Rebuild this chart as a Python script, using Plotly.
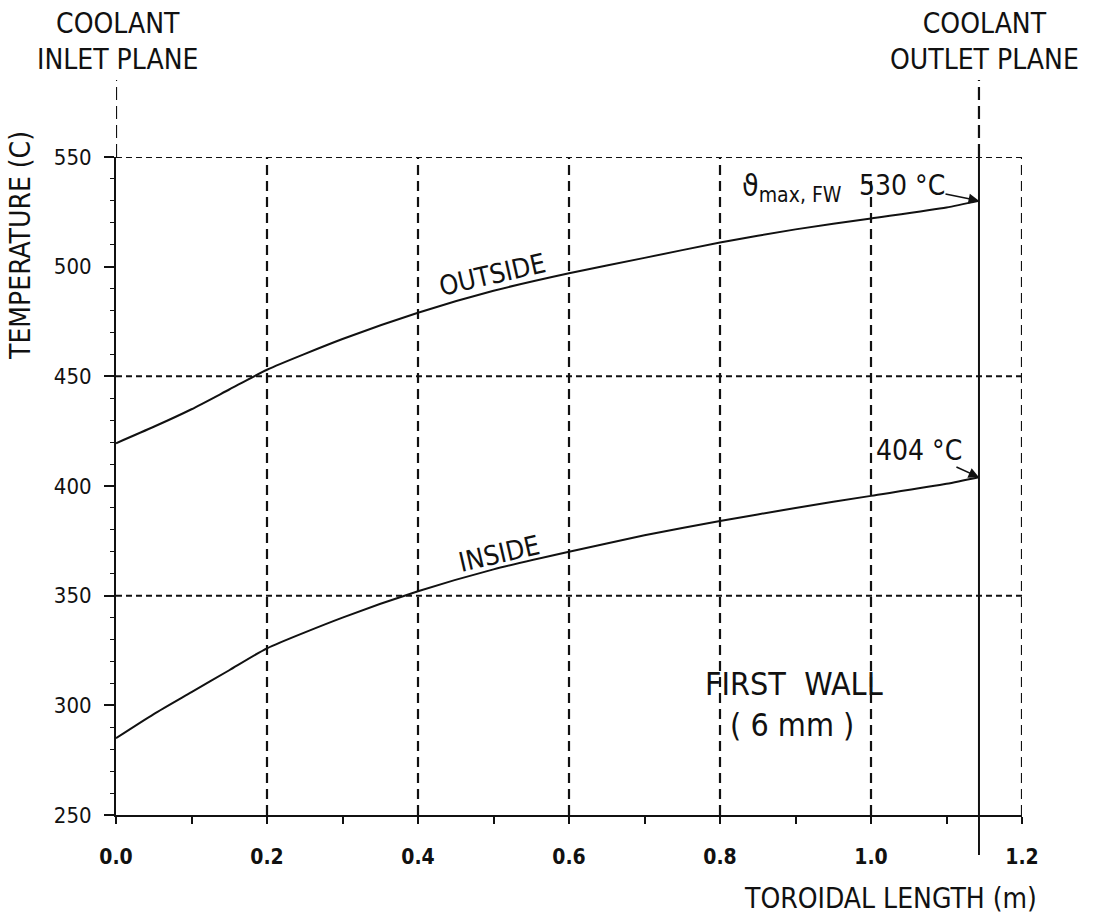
import plotly.graph_objects as go

# Toroidal position along the first wall (m)
length_m = [0.0, 0.05, 0.1, 0.15, 0.2, 0.3, 0.4, 0.5, 0.6, 0.7, 0.8, 0.9, 1.0, 1.1, 1.143]
# Wall temperatures (C)
outside_c = [419.5, 427, 435, 444, 453, 467, 479, 489, 497, 504, 511, 517, 522, 527, 530]
inside_c = [285, 296, 306, 316, 326, 340, 352, 362, 370, 377.5, 384, 390, 395.5, 401, 404]

x_ticks = [0.0, 0.2, 0.4, 0.6, 0.8, 1.0, 1.2]
x_tick_text = ["0.0", "0.2", "0.4", "0.6", "0.8", "1.0", "1.2"]
y_ticks = [250, 300, 350, 400, 450, 500, 550]
x_grid = [0.2, 0.4, 0.6, 0.8, 1.0, 1.2]
y_grid = [350, 450, 550]
inlet_x = 0.0
outlet_x = length_m[-1]

W, H = 1093, 922
L, R, T, B = 116, 71, 157, 107
PW, PH = W - L - R, H - T - B
X0, X1 = 0.0, 1.2
Y0, Y1 = 250, 550


def px(xp):
    return (xp - L) / PW


def py(yp):
    return (H - B - yp) / PH


TEXT_FONT = "DejaVu Sans Condensed, DejaVu Sans, sans-serif"
INK = "#111111"

fig = go.Figure()

for temps in (outside_c, inside_c):
    fig.add_trace(go.Scatter(
        x=length_m, y=temps, mode="lines",
        line=dict(color=INK, width=2, shape="spline", smoothing=0.6),
        showlegend=False, hoverinfo="skip",
    ))

shapes = []
# dashed grid
for xv in x_grid:
    top = 540 if xv == 1.0 else Y1
    shapes.append(dict(type="line", xref="x", yref="y", x0=xv, x1=xv, y0=Y0, y1=top,
                       line=dict(color=INK, width=2.2, dash="10px,6px"), layer="below"))
for yv in y_grid:
    shapes.append(dict(type="line", xref="x", yref="y", x0=X0, x1=X1, y0=yv, y1=yv,
                       line=dict(color=INK, width=2, dash="6px,4px"), layer="below"))

# coolant inlet plane marker above the axis
shapes.append(dict(type="line", xref="x", yref="paper", x0=inlet_x, x1=inlet_x, y0=1.0, y1=py(80),
                   line=dict(color=INK, width=2.2, dash="13px,6px")))
# coolant outlet plane: solid inside the plot, dashed above, extended below
shapes.append(dict(type="line", xref="x", yref="y", x0=outlet_x, x1=outlet_x, y0=Y0, y1=Y1,
                   line=dict(color=INK, width=2)))
shapes.append(dict(type="line", xref="x", yref="paper", x0=outlet_x, x1=outlet_x, y0=1.0, y1=py(80),
                   line=dict(color=INK, width=2.2, dash="13px,6px")))
shapes.append(dict(type="line", xref="x", yref="paper", x0=outlet_x, x1=outlet_x, y0=py(855), y1=0.0,
                   line=dict(color=INK, width=2)))

annotations = []


def note(text, xp, yp, size, angle=0, xanchor="center"):
    annotations.append(dict(
        text=text, x=px(xp), y=py(yp), xref="paper", yref="paper",
        xanchor=xanchor, yanchor="middle", showarrow=False, textangle=angle,
        font=dict(family=TEXT_FONT, size=size, color=INK),
    ))


note("COOLANT<br>INLET PLANE", 117, 41, 28)
note("COOLANT<br>OUTLET PLANE", 984, 41, 28)
note("TEMPERATURE (C)", 21, 246, 28, angle=-90)
note("TOROIDAL LENGTH (m)", 890, 898, 28)
note("OUTSIDE", 492, 274, 27, angle=-13)
note("INSIDE", 499, 553, 27, angle=-13)
note("FIRST  WALL", 794, 684, 32)
note("( 6 mm )", 792, 725, 32)
note("ϑ<sub>max, FW</sub>", 740, 187, 30, xanchor="left")


def value_label(temp, xp, yp):
    # label sits at (xp, yp) on the page, arrow points at the outlet-end value
    xt = X0 + (xp - L) / PW * (X1 - X0)
    yt = Y0 + (H - B - yp) / PH * (Y1 - Y0)
    annotations.append(dict(
        x=outlet_x, y=temp, xref="x", yref="y", ax=xt, ay=yt, axref="x", ayref="y",
        text=f"{temp:.0f} °C", showarrow=True, arrowhead=2, arrowsize=1.3, arrowwidth=1.6,
        arrowcolor=INK, standoff=0, borderpad=0,
        font=dict(family=TEXT_FONT, size=28, color=INK),
    ))


value_label(outside_c[-1], 902, 185)
value_label(inside_c[-1], 919, 450)

fig.update_layout(
    width=W, height=H,
    margin=dict(l=L, r=R, t=T, b=B, pad=0),
    paper_bgcolor="white", plot_bgcolor="white",
    shapes=shapes, annotations=annotations,
    xaxis=dict(
        range=[X0, X1], showgrid=False, zeroline=False,
        showline=True, linecolor=INK, linewidth=1.8,
        tickmode="array", tickvals=x_ticks, ticktext=x_tick_text,
        ticks="outside", ticklen=6, tickwidth=1.6, tickcolor=INK,
        minor=dict(dtick=0.1, ticks="outside", ticklen=7, tickwidth=1.5, tickcolor=INK, showgrid=False),
        tickfont=dict(family=TEXT_FONT, size=21, color=INK, weight="bold"),
        ticklabelstandoff=16,
    ),
    yaxis=dict(
        range=[Y0, Y1], showgrid=False, zeroline=False,
        showline=True, linecolor=INK, linewidth=2,
        tickmode="array", tickvals=y_ticks,
        ticks="outside", ticklen=10, tickwidth=1.6, tickcolor=INK,
        minor=dict(dtick=10, ticks="outside", ticklen=4, tickwidth=1.4, tickcolor=INK, showgrid=False),
        tickfont=dict(family=TEXT_FONT, size=22, color=INK),
        ticklabelstandoff=8,
    ),
)

fig.write_html("out.html")
